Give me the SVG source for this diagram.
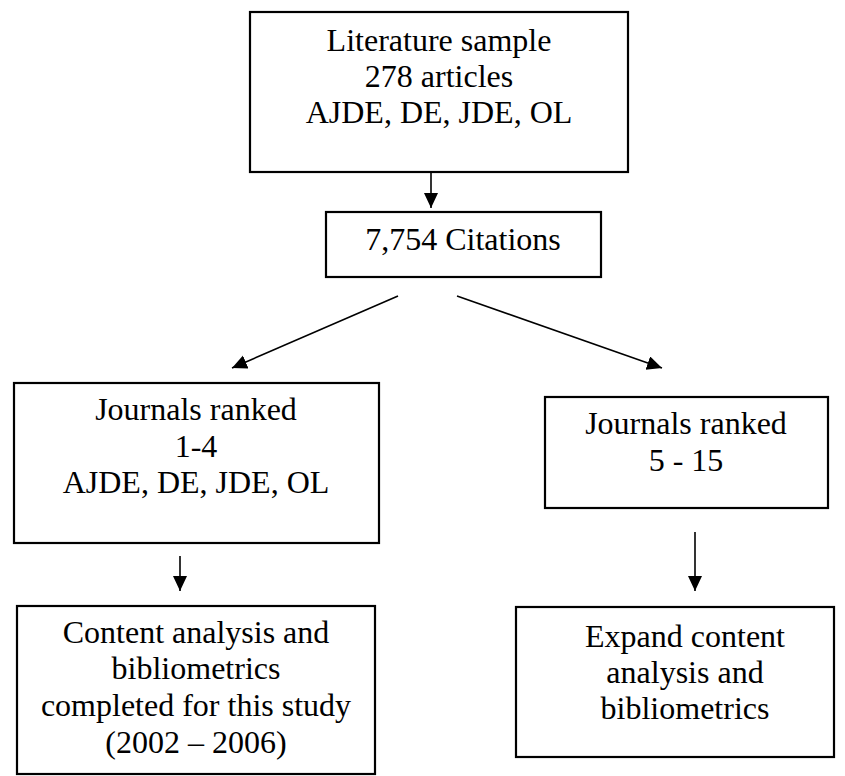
<svg xmlns="http://www.w3.org/2000/svg" width="845" height="776" viewBox="0 0 845 776">
<style>
.box{fill:#fff;stroke:#000;stroke-width:2.2}
.t{font-size:32px;fill:#000;text-anchor:middle}
.c{stroke:#000;stroke-width:1.6;fill:none;marker-end:url(#ah)}
</style>
<defs>
<marker id="ah" markerUnits="userSpaceOnUse" markerWidth="17" markerHeight="15" refX="15" refY="7" orient="auto">
<path d="M0,0 L15,7 L0,14 z" fill="#000"/>
</marker>
</defs>
<rect width="845" height="776" fill="#fff"/>
<g id="connectors">
<line class="c" x1="431" y1="172" x2="431" y2="208"/>
<line class="c" x1="398" y1="296" x2="232" y2="368"/>
<line class="c" x1="457" y1="296" x2="662" y2="368"/>
<line class="c" x1="180" y1="556" x2="180" y2="591"/>
<line class="c" x1="695" y1="532" x2="695" y2="591"/>
</g>
<g font-family="'Liberation Serif', Tinos, 'Times New Roman', 'DejaVu Serif', serif">
<g id="literature">
<rect class="box" x="250" y="12" width="378" height="160"/>
<text class="t" x="439" y="51">Literature sample</text>
<text class="t" x="439" y="87">278 articles</text>
<text class="t" x="439" y="123">AJDE, DE, JDE, OL</text>
</g>
<g id="citations">
<rect class="box" x="326" y="212" width="275" height="65"/>
<text class="t" x="463" y="250">7,754 Citations</text>
</g>
<g id="ranked14">
<rect class="box" x="14" y="383" width="365" height="160"/>
<text class="t" x="196" y="420">Journals ranked</text>
<text class="t" x="196" y="457">1-4</text>
<text class="t" x="196" y="493">AJDE, DE, JDE, OL</text>
</g>
<g id="ranked515">
<rect class="box" x="545" y="397" width="283" height="111"/>
<text class="t" x="686" y="434">Journals ranked</text>
<text class="t" x="686" y="471">5 - 15</text>
</g>
<g id="content">
<rect class="box" x="17" y="606" width="358" height="168"/>
<text class="t" x="196" y="643">Content analysis and</text>
<text class="t" x="196" y="679">bibliometrics</text>
<text class="t" x="196" y="716">completed for this study</text>
<text class="t" x="196" y="753">(2002 – 2006)</text>
</g>
<g id="expand">
<rect class="box" x="516" y="607" width="318" height="150"/>
<text class="t" x="685" y="647">Expand content</text>
<text class="t" x="685" y="683">analysis and</text>
<text class="t" x="685" y="719">bibliometrics</text>
</g>
</g>
</svg>
